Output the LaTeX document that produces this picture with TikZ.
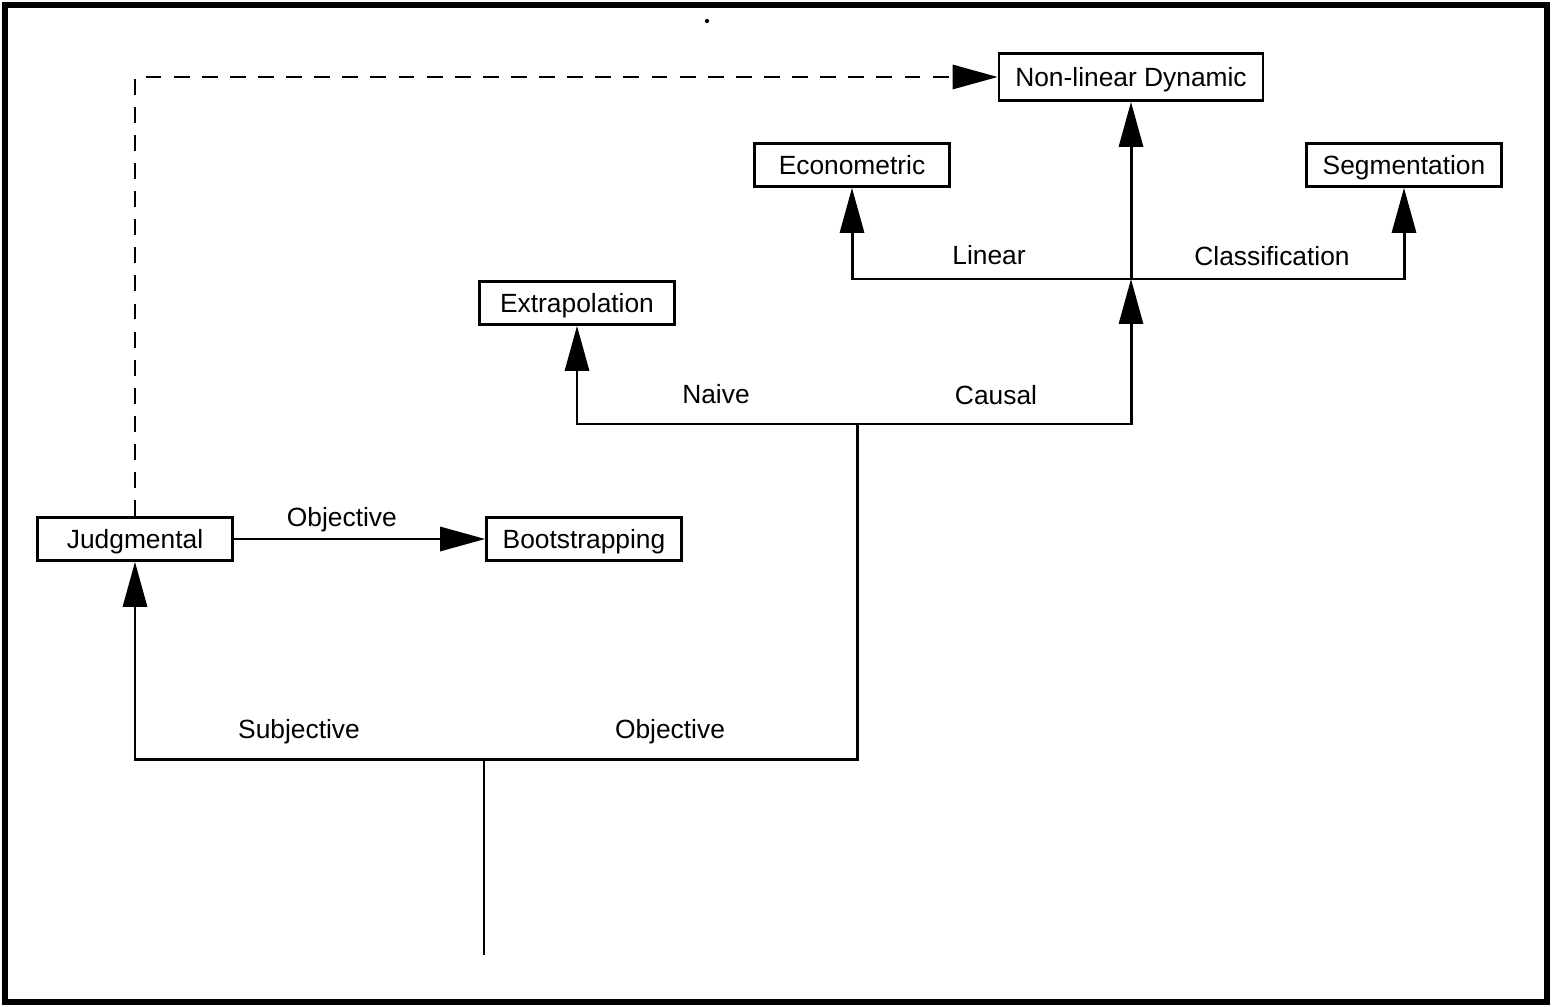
\documentclass[tikz,border=0pt]{standalone}
\usepackage{fontspec}
\setmainfont{Liberation Sans}
\usetikzlibrary{arrows.meta}

\begin{document}
\begin{tikzpicture}[x=0.02cm, y=-0.02cm,
    method/.style={draw, line width=1.5pt, minimum width=3.9cm, minimum height=0.86cm,
                   inner sep=2pt, text height=11pt, text depth=0pt,
                   font=\fontsize{15}{18}\selectfont},
    branch/.style={font=\fontsize{15}{18}\selectfont},
    link/.style={line width=1.7pt},
    arrowed/.style={-{Triangle[length=0.9cm, width=0.48cm]}}]

    % Frame of the figure
    \useasboundingbox (0,0) rectangle (1552,1007);
    \draw[line width=3pt] (5,5) rectangle (1547,1002);
    \fill (707,21) circle (1.2pt);

    % Methods (boxes)
    \node[method, minimum width=5.28cm, minimum height=0.94cm] (nld) at (1131,77) {Non-linear Dynamic};
    \node[method] (econ) at (852,165) {Econometric};
    \node[method] (segm) at (1404,165) {Segmentation};
    \node[method] (extra) at (577,303) {Extrapolation};
    \node[method] (judg) at (135,539) {Judgmental};
    \node[method] (boot) at (584,539) {Bootstrapping};

    % Branch points
    \coordinate (root) at (484,955);
    \coordinate (split) at (484,759);
    \coordinate (objective) at (857,424);
    \coordinate (causal) at (1131,279);

    % Tree
    \draw[link] (root) -- (split);
    \draw[link, arrowed] (split) -| (judg);
    \draw[link] (split) -| (objective);
    \draw[link, arrowed] (objective) -| (extra);
    \draw[link, arrowed] (objective) -| (causal);
    \draw[link, arrowed] (causal) -- (nld);
    \draw[link, arrowed] (causal) -| (econ);
    \draw[link, arrowed] (causal) -| (segm);

    % Judgmental to bootstrapping and non-linear
    \draw[link, arrowed] (judg) -- (boot) node[branch, pos=0.43, above] (obj2) {Objective};
    \draw[link, arrowed, dash pattern=on 9pt off 7pt] (judg.north) |- (nld);

    % Branch labels
    \node[branch] (subj) at (299,732) {Subjective};
    \node[branch] (obj) at (670,732) {Objective};
    \node[branch] (naive) at (716,394) {Naive};
    \node[branch] (caus) at (996,395) {Causal};
    \node[branch] (lin) at (989,255) {Linear};
    \node[branch] (class) at (1272,256) {Classification};

\end{tikzpicture}
\end{document}
